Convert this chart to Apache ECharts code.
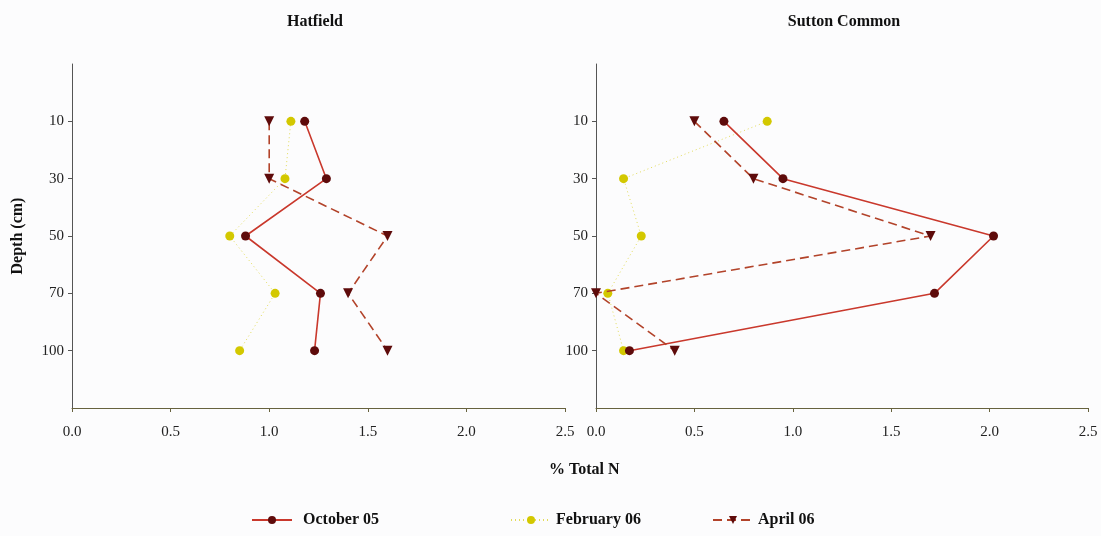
<!DOCTYPE html>
<html>
<head>
<meta charset="utf-8">
<script src="https://cdn.jsdelivr.net/npm/echarts@6/dist/echarts.min.js"></script>
<style>
  html, body { margin: 0; padding: 0; background: #fcfcfd; }
  #chart { width: 1101px; height: 536px; }
</style>
</head>
<body>
<div id="chart"></div>
<script>
// ---- Data ----
const depths = [10, 30, 50, 70, 100];
const xTicks = ['0.0', '0.5', '1.0', '1.5', '2.0', '2.5'];
const panelTitles = ['Hatfield', 'Sutton Common'];
const seriesNames = ['October 05', 'February 06', 'April 06'];

const hatfieldOct = [1.18, 1.29, 0.88, 1.26, 1.23];
const hatfieldFeb = [1.11, 1.08, 0.80, 1.03, 0.85];
const hatfieldApr = [1.00, 1.00, 1.60, 1.40, 1.60];

const suttonOct = [0.65, 0.95, 2.02, 1.72, 0.17];
const suttonFeb = [0.87, 0.14, 0.23, 0.06, 0.14];
const suttonApr = [0.50, 0.80, 1.70, 0.00, 0.40];

// ---- Build ----
const FONT = '"Liberation Serif", "Times New Roman", serif';
const pair = (vals) => vals.map((v, i) => [v, i + 1]);

const styles = [
  { lineStyle: { color: '#c9382c', width: 1.6, type: 'solid' }, itemStyle: { color: '#5e0b0b' }, symbol: 'circle', symbolSize: 9, symbolRotate: 0 },
  { lineStyle: { color: '#e3dc5a', width: 1, type: [1, 3] }, itemStyle: { color: '#d3c800' }, symbol: 'circle', symbolSize: 9, symbolRotate: 0 },
  { lineStyle: { color: '#b2432a', width: 1.6, type: [9, 5] }, itemStyle: { color: '#5e0b0b' }, symbol: 'triangle', symbolSize: 10, symbolRotate: 180 }
];

const panelData = [
  [hatfieldOct, hatfieldFeb, hatfieldApr],
  [suttonOct, suttonFeb, suttonApr]
];

const series = [];
panelData.forEach((sets, p) => {
  sets.forEach((vals, s) => {
    series.push(Object.assign({
      type: 'line',
      name: seriesNames[s],
      xAxisIndex: p,
      yAxisIndex: p,
      data: pair(vals),
      z: s === 1 ? 2 : 3,
      animation: false
    }, styles[s]));
  });
});

const grids = [
  { left: 72, width: 493, top: 64, height: 344 },
  { left: 596, width: 492, top: 64, height: 344 }
];

const xAxes = [0, 1].map(i => ({
  type: 'value', gridIndex: i, min: 0, max: 2.5, interval: 0.5, position: 'bottom',
  splitLine: { show: false },
  axisLine: { onZero: false, lineStyle: { color: '#67623e', width: 1 } },
  axisTick: { show: true, length: 4, lineStyle: { color: '#67623e' } },
  axisLabel: { margin: 17, color: '#222', fontFamily: FONT, fontSize: 15,
    formatter: v => xTicks[Math.round(v / 0.5)] }
}));

const yAxes = [0, 1].map(i => ({
  type: 'value', gridIndex: i, min: 0, max: 6, interval: 1, inverse: true, position: 'left',
  splitLine: { show: false },
  axisLine: { show: true, onZero: false, lineStyle: { color: '#555', width: 1 } },
  axisTick: { show: true, length: 4, lineStyle: { color: '#555' }, customValues: [1, 2, 3, 4, 5] },
  axisLabel: { margin: 8, color: '#222', fontFamily: FONT, fontSize: 15,
    customValues: [1, 2, 3, 4, 5],
    formatter: v => (v >= 1 && v <= depths.length) ? String(depths[v - 1]) : '' },
  name: i === 0 ? 'Depth (cm)' : '',
  nameLocation: 'middle', nameRotate: 90, nameGap: 46,
  nameTextStyle: { fontFamily: FONT, fontSize: 16, fontWeight: 'bold', color: '#111' }
}));

const legendText = (pad) => ({ fontFamily: FONT, fontSize: 16, fontWeight: 'bold', color: '#111', padding: [0, 0, 0, pad] });
const legendBase = { bottom: 3, itemWidth: 40, itemHeight: 10, selectedMode: false };

const option = {
  backgroundColor: '#fcfcfd',
  animation: false,
  title: [
    { text: panelTitles[0], left: 310, top: 9, textAlign: 'center',
      textStyle: { fontFamily: FONT, fontSize: 16, fontWeight: 'bold', color: '#111' } },
    { text: panelTitles[1], left: 839, top: 9, textAlign: 'center',
      textStyle: { fontFamily: FONT, fontSize: 16, fontWeight: 'bold', color: '#111' } }
  ],
  grid: grids,
  xAxis: xAxes,
  yAxis: yAxes,
  legend: [
    Object.assign({ left: 246, data: [seriesNames[0]], textStyle: legendText(6) }, legendBase),
    Object.assign({ left: 505, data: [seriesNames[1]], textStyle: legendText(0) }, legendBase),
    Object.assign({ left: 707, data: [seriesNames[2]], textStyle: legendText(0) }, legendBase)
  ],
  graphic: [
    { type: 'text', left: 549, top: 462,
      style: { text: '% Total N', font: 'bold 16px ' + FONT, fill: '#111' } }
  ],
  series: series
};

const chart = echarts.init(document.getElementById('chart'), null, { renderer: 'canvas' });
chart.setOption(option);
</script>
</body>
</html>
